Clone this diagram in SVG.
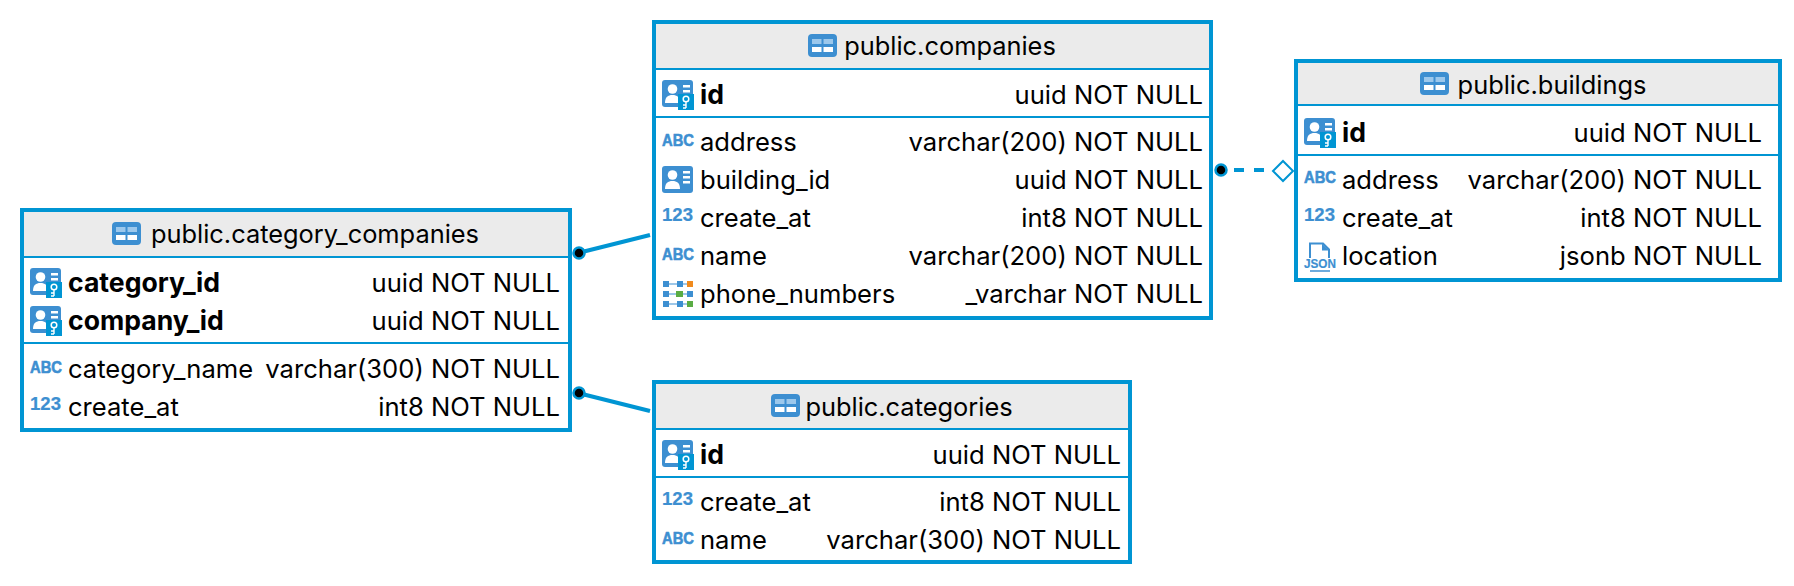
<svg xmlns="http://www.w3.org/2000/svg" xmlns:xlink="http://www.w3.org/1999/xlink" width="1794" height="586" viewBox="0 0 1794 586">
<style>
text{font-family:Inter,"Liberation Sans",sans-serif;font-size:25.6px;fill:#000}
.b{font-weight:700;font-size:26.6px}
.r{text-anchor:end}
.h{text-anchor:middle;font-size:25.4px}
.box{fill:#fff;stroke:#0095d3;stroke-width:4}
.head{fill:#ebebeb}
.sep{stroke:#0095d3;stroke-width:2;fill:none}
.ic{fill:#3d8fd1}
.lbl{font-family:"Liberation Sans",sans-serif;font-weight:700;font-size:17px;fill:#3d8fd1;stroke:#3d8fd1;stroke-width:.6}
.conn{stroke:#0095d3;stroke-width:4;fill:none}
.dot{fill:#000;stroke:#0095d3;stroke-width:2.5}
</style>
<defs>
<g id="tbl"><rect width="29" height="23" rx="4" class="ic"/><rect x="4" y="5" width="9.5" height="5" fill="#9cc8ec"/><rect x="15.5" y="5" width="9.5" height="5" fill="#9cc8ec"/><rect x="4" y="13" width="9.5" height="5" fill="#fff"/><rect x="15.5" y="13" width="9.5" height="5" fill="#fff"/></g>
<g id="col"><rect width="31" height="27" rx="3" class="ic"/><circle cx="10.500" cy="9" r="4.800" fill="#fff"/><path d="M3 23c0-6 3-8 7.500-8s7.500 2 7.500 8z" fill="#fff"/><rect x="21" y="5" width="7" height="2.500" fill="#fff"/><rect x="21" y="10" width="7" height="2.500" fill="#fff"/><rect x="21" y="15" width="7" height="2.500" fill="#fff"/></g>
<g id="key"><use href="#col"/><rect x="16" y="14" width="16" height="16" fill="#0095d3"/><circle cx="24" cy="19" r="2.800" fill="none" stroke="#fff" stroke-width="1.500"/><path d="M24 22v6M24 25h-3M24 28h-3" stroke="#fff" stroke-width="1.400" fill="none"/></g>
<g id="abc"><text class="lbl" x="0" y="13" textLength="32" lengthAdjust="spacingAndGlyphs">ABC</text></g>
<g id="n123"><text class="lbl" x="0" y="12" textLength="31" lengthAdjust="spacingAndGlyphs" style="font-size:18px;stroke-width:.2">123</text></g>
<g id="arr">
<rect x="0" y="0" width="6" height="6" class="ic"/><rect x="14" y="0" width="6" height="6" class="ic"/><rect x="24" y="0" width="6" height="6" fill="#f08a1d"/>
<rect x="0" y="10" width="6" height="6" class="ic"/><rect x="13" y="10" width="7" height="6" fill="#5aac44"/><rect x="24" y="10" width="6" height="6" class="ic"/>
<rect x="0" y="20" width="6" height="6" class="ic"/><rect x="14" y="20" width="6" height="6" class="ic"/><rect x="24" y="20" width="6" height="6" fill="#5aac44"/>
<path d="M6 3h8M20 3h4M6 13h7M20 13h4M6 23h8M20 23h4" stroke="#3d8fd1" stroke-width="1.200"/></g>
<g id="json"><path d="M6 16V1.500h13l6 6V16" fill="none" stroke="#3d8fd1" stroke-width="2"/><path d="M18 1.500v7h7z" class="ic"/><text class="lbl" x="0" y="26" textLength="32" lengthAdjust="spacingAndGlyphs" style="font-size:12.500px;stroke-width:.2">JSON</text><path d="M6 29h20" stroke="#3d8fd1" stroke-width="1.500"/></g>
</defs>
<g id="connectors">
<path class="conn" d="M584 251.500L650 235"/>
<path class="conn" d="M584 394.500L650 411"/>
<path class="conn" d="M1234 170h10M1254 170h10"/>
<circle class="dot" cx="579" cy="253" r="5.500"/>
<circle class="dot" cx="579" cy="393" r="5.500"/>
<circle class="dot" cx="1221" cy="170" r="5.500"/>
<path d="M1283 161L1293 171L1283 181L1273 171Z" fill="#fff" stroke="#0095d3" stroke-width="2"/>
</g>
<g id="category_companies">
<rect class="box" x="22" y="210" width="548" height="220"/>
<rect class="head" x="24" y="212" width="544" height="45"/>
<path class="sep" d="M24 257h544M24 343h544"/>
<use href="#tbl" x="112" y="222"/>
<text class="h" x="315" y="243">public.category_companies</text>
<use href="#key" x="30" y="268"/><text class="b" x="68" y="292">category_id</text><text class="r" x="560" y="292">uuid NOT NULL</text>
<use href="#key" x="30" y="306"/><text class="b" x="68" y="330">company_id</text><text class="r" x="560" y="330">uuid NOT NULL</text>
<use href="#abc" x="30" y="360"/><text x="68" y="378">category_name</text><text class="r" x="560" y="378">varchar(300) NOT NULL</text>
<use href="#n123" x="30" y="398"/><text x="68" y="416">create_at</text><text class="r" x="560" y="416">int8 NOT NULL</text>
</g>
<g id="companies">
<rect class="box" x="654" y="22" width="557" height="296"/>
<rect class="head" x="656" y="24" width="553" height="45"/>
<path class="sep" d="M656 69h553M656 117h553"/>
<use href="#tbl" x="808" y="34"/>
<text class="h" x="950" y="55">public.companies</text>
<use href="#key" x="662" y="80"/><text class="b" x="700" y="104">id</text><text class="r" x="1203" y="104">uuid NOT NULL</text>
<use href="#abc" x="662" y="133"/><text x="700" y="151">address</text><text class="r" x="1203" y="151">varchar(200) NOT NULL</text>
<use href="#col" x="662" y="166"/><text x="700" y="189">building_id</text><text class="r" x="1203" y="189">uuid NOT NULL</text>
<use href="#n123" x="662" y="209"/><text x="700" y="227">create_at</text><text class="r" x="1203" y="227">int8 NOT NULL</text>
<use href="#abc" x="662" y="247"/><text x="700" y="265">name</text><text class="r" x="1203" y="265">varchar(200) NOT NULL</text>
<use href="#arr" x="663" y="281"/><text x="700" y="303">phone_numbers</text><text class="r" x="1203" y="303">_varchar NOT NULL</text>
</g>
<g id="buildings">
<rect class="box" x="1296" y="61" width="484" height="219"/>
<rect class="head" x="1298" y="63" width="480" height="43"/>
<path class="sep" d="M1298 105h480M1298 155h480"/>
<use href="#tbl" x="1420" y="72"/>
<text class="h" x="1552" y="94">public.buildings</text>
<use href="#key" x="1304" y="118"/><text class="b" x="1342" y="142">id</text><text class="r" x="1762" y="142">uuid NOT NULL</text>
<use href="#abc" x="1304" y="170"/><text x="1342" y="189">address</text><text class="r" x="1762" y="189">varchar(200) NOT NULL</text>
<use href="#n123" x="1304" y="209"/><text x="1342" y="227">create_at</text><text class="r" x="1762" y="227">int8 NOT NULL</text>
<use href="#json" x="1304" y="242"/><text x="1342" y="265">location</text><text class="r" x="1762" y="265">jsonb NOT NULL</text>
</g>
<g id="categories">
<rect class="box" x="654" y="382" width="476" height="180"/>
<rect class="head" x="656" y="384" width="472" height="45"/>
<path class="sep" d="M656 429h472M656 477h472"/>
<use href="#tbl" x="771" y="394"/>
<text class="h" x="909" y="416">public.categories</text>
<use href="#key" x="662" y="440"/><text class="b" x="700" y="464">id</text><text class="r" x="1121" y="464">uuid NOT NULL</text>
<use href="#n123" x="662" y="493"/><text x="700" y="511">create_at</text><text class="r" x="1121" y="511">int8 NOT NULL</text>
<use href="#abc" x="662" y="531"/><text x="700" y="549">name</text><text class="r" x="1121" y="549">varchar(300) NOT NULL</text>
</g>
</svg>
